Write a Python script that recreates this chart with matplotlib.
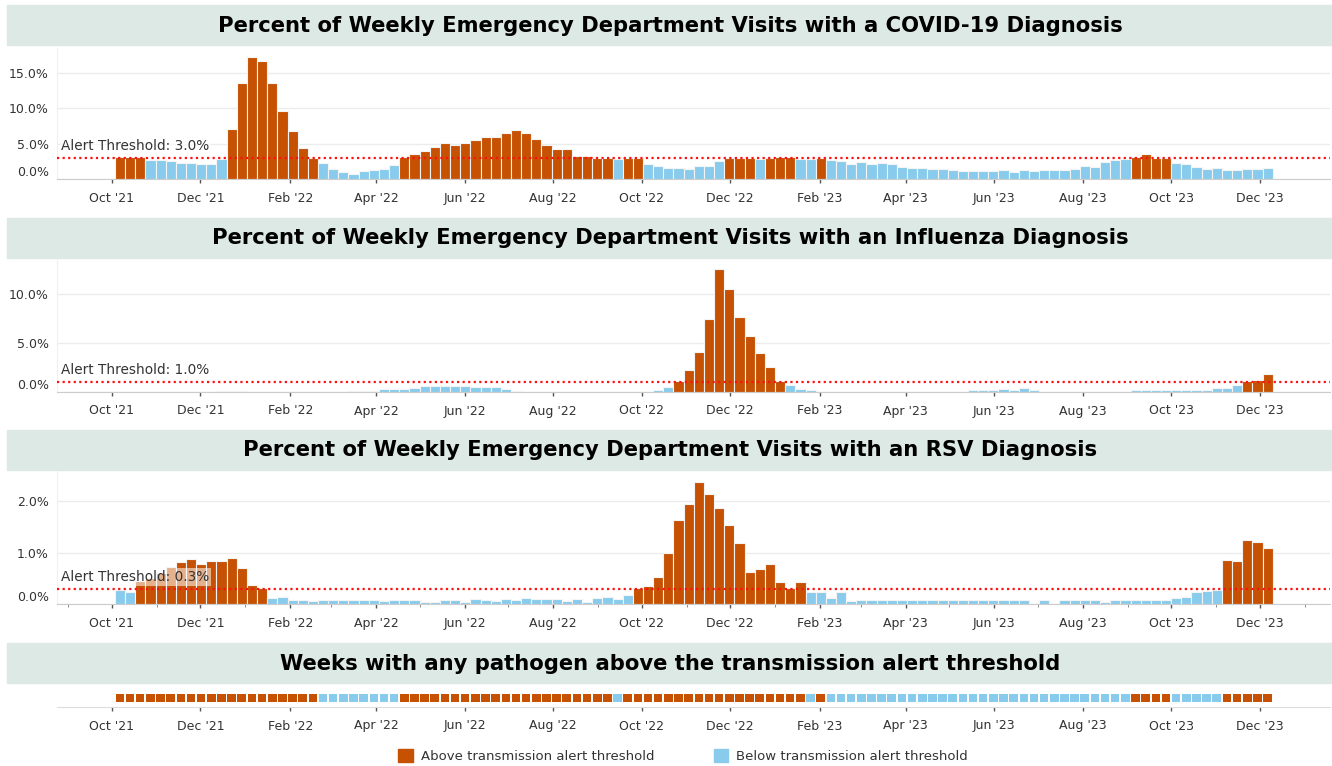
import numpy as np
import pandas as pd
import matplotlib
matplotlib.use("Agg")
import matplotlib.pyplot as plt
import matplotlib.dates as mdates
import matplotlib.patches as mpatches

# weekly values, first week starts 3 Oct 2021
week_start = pd.date_range("2021-10-03", periods=114, freq="7D")

covid = [3.1, 3.1, 3.1, 2.7, 2.7, 2.6, 2.3, 2.3, 2.1, 2.1,
         2.9, 7.1, 13.5, 17.3, 16.6, 13.6, 9.6, 6.8, 4.4, 3.0,
         2.3, 1.5, 1.0, 0.8, 1.1, 1.3, 1.5, 2.0, 3.1, 3.5,
         4.0, 4.5, 5.1, 4.9, 5.1, 5.5, 5.9, 5.9, 6.5, 6.9,
         6.5, 5.7, 4.9, 4.3, 4.3, 3.3, 3.3, 3.05, 3.05, 2.8,
         3.05, 3.05, 2.1, 1.9, 1.55, 1.55, 1.4, 1.9, 1.9, 2.6,
         3.05, 3.0, 3.05, 2.8, 3.05, 3.2, 3.2, 2.8, 2.9, 3.05,
         2.7, 2.6, 2.1, 2.4, 2.2, 2.25, 2.1, 1.8, 1.6, 1.6,
         1.45, 1.45, 1.3, 1.2, 1.2, 1.2, 1.2, 1.3, 1.0, 1.3,
         1.2, 1.3, 1.3, 1.3, 1.45, 1.9, 1.8, 2.4, 2.7, 2.9,
         3.1, 3.5, 3.0, 3.0, 2.25, 2.1, 1.8, 1.45, 1.65, 1.3,
         1.3, 1.45, 1.45, 1.65]

flu = [0, 0, 0, 0, 0, 0, 0, 0, 0, 0,
       0.15, 0.15, 0.15, 0, 0, 0, 0, 0, 0, 0,
       0, 0, 0, 0.15, 0.15, 0.15, 0.3, 0.3, 0.3, 0.4,
       0.58, 0.65, 0.65, 0.65, 0.65, 0.5, 0.5, 0.5, 0.3, 0.15,
       0, 0, 0, 0, 0, 0, 0, 0, 0, 0,
       0, 0, 0, 0.22, 0.48, 1.16, 2.28, 4.1, 7.4, 12.6,
       10.5, 7.65, 5.7, 4.0, 2.6, 1.16, 0.68, 0.34, 0.2, 0,
       0, 0, 0, 0, 0, 0, 0, 0, 0, 0,
       0, 0, 0, 0, 0.2, 0.2, 0.25, 0.34, 0.2, 0.37,
       0.2, 0, 0, 0, 0, 0, 0, 0, 0, 0,
       0.2, 0.2, 0.2, 0.2, 0.2, 0.2, 0.2, 0.2, 0.45, 0.45,
       0.68, 1.1, 1.2, 1.85]

rsv = [0.28, 0.245, 0.45, 0.5, 0.6, 0.73, 0.81, 0.87, 0.78, 0.84,
       0.84, 0.9, 0.7, 0.37, 0.31, 0.12, 0.14, 0.08, 0.08, 0.06,
       0.08, 0.08, 0.08, 0.08, 0.08, 0.08, 0.06, 0.08, 0.08, 0.08,
       0.04, 0.04, 0.08, 0.08, 0.04, 0.1, 0.08, 0.07, 0.11, 0.08,
       0.12, 0.1, 0.1, 0.1, 0.07, 0.1, 0.045, 0.12, 0.14, 0.1,
       0.18, 0.31, 0.355, 0.52, 1.0, 1.64, 1.94, 2.37, 2.14, 1.87,
       1.53, 1.18, 0.63, 0.68, 0.78, 0.43, 0.32, 0.44, 0.245, 0.23,
       0.12, 0.23, 0.065, 0.08, 0.08, 0.08, 0.08, 0.08, 0.08, 0.08,
       0.08, 0.08, 0.08, 0.08, 0.08, 0.08, 0.08, 0.08, 0.08, 0.08,
       np.nan, 0.08, np.nan, 0.08, 0.08, 0.08, 0.08, 0.045, 0.08, 0.08,
       0.08, 0.08, 0.08, 0.08, 0.12, 0.14, 0.23, 0.25, 0.28, 0.86,
       0.83, 1.25, 1.2, 1.09]

thresholds = [3.0, 1.0, 0.3]
titles = ["Percent of Weekly Emergency Department Visits with a COVID-19 Diagnosis",
          "Percent of Weekly Emergency Department Visits with an Influenza Diagnosis",
          "Percent of Weekly Emergency Department Visits with an RSV Diagnosis",
          "Weeks with any pathogen above the transmission alert threshold"]
yticks = [[0, 5, 10, 15], [0, 5, 10], [0, 1, 2]]
legend_labels = ["Above transmission alert threshold", "Below transmission alert threshold"]

ORANGE = "#C65102"
BLUE = "#88CBEC"
BAND = "#DCE9E5"
TEXT = "#333333"

W, H = 1332, 766
fig = plt.figure(figsize=(W / 100, H / 100), dpi=100)


def px_axes(left, top, right, bottom):
    """axes from pixel box"""
    return fig.add_axes([left / W, 1 - bottom / H, (right - left) / W, (bottom - top) / H])


x = mdates.date2num(week_start)
x0 = mdates.date2num(pd.Timestamp("2021-10-01"))
xlim = (x0 - 37.9, x0 + 839.5)

# title bands
band_tops = [5, 218, 430, 643]
for top, title in zip(band_tops, titles):
    fig.patches.append(mpatches.Rectangle((7 / W, 1 - (top + 40) / H), 1325 / W, 40 / H,
                                          transform=fig.transFigure, color=BAND, zorder=0))
    fig.text(670 / W, 1 - (top + 20.5) / H, title, ha="center", va="center",
             fontsize=15.2, fontweight="bold", color="black")

# pixel boxes of the three bar panels
boxes = [(57, 48, 1330, 179.3), (57, 260, 1330, 392), (57, 472, 1330, 604.3)]
ymax = [18.5, 13.47, 2.56]
series = [covid, flu, rsv]
above_flags = []

for i, (box, vals, thr) in enumerate(zip(boxes, series, thresholds)):
    ax = px_axes(*box)
    vals = np.array(vals, dtype=float)
    above = np.nan_to_num(vals, nan=0) >= thr
    above_flags.append(above)
    colors = [ORANGE if a else BLUE for a in above]
    ax.bar(x, vals, width=7, align="edge", color=colors, edgecolor="#f4f4f4",
           linewidth=0.8, zorder=2)
    ax.axhline(thr, color="#FF1010", linestyle=(0, (1, 1.5)), linewidth=1.6, zorder=3)
    ax.annotate("Alert Threshold: %.1f%%" % thr, xy=(0, thr),
                xycoords=("axes fraction", "data"), xytext=(3, 3.5),
                textcoords="offset points", ha="left", va="bottom",
                fontsize=9.8, color=TEXT, zorder=4,
                bbox=dict(boxstyle="square,pad=0.12", fc="white", ec="none", alpha=0.55))

    ax.set_xlim(*xlim)
    ax.set_ylim(0, ymax[i])
    ax.set_yticks(yticks[i])
    ax.set_yticklabels(["%.1f%%" % t for t in yticks[i]])
    ax.get_yticklabels()[0].set_verticalalignment("bottom")
    ax.yaxis.grid(True, color="#ECECEC", linewidth=1, zorder=0)
    ax.set_axisbelow(True)

    ax.xaxis.set_major_locator(mdates.MonthLocator(bymonth=[2, 4, 6, 8, 10, 12]))
    ax.xaxis.set_major_formatter(mdates.DateFormatter("%b '%y"))
    if i == 2:
        ax.xaxis.set_minor_locator(mdates.MonthLocator())
        ax.tick_params(axis="x", which="minor", length=2, color="#777777")
    ax.tick_params(axis="x", length=3, width=1, color="#555555", pad=6,
                   labelsize=9, labelcolor=TEXT)
    ax.tick_params(axis="y", length=0, pad=6, labelsize=9, labelcolor=TEXT)

    for side in ["top", "right"]:
        ax.spines[side].set_visible(False)
    ax.spines["left"].set_color("#F0F0F0")
    ax.spines["bottom"].set_color("#CCCCCC")

# weeks with any pathogen above threshold
any_above = above_flags[0] | above_flags[1] | above_flags[2]
ax4 = px_axes(57, 688, 1330, 707)
ax4.bar(x + 0.5, [0.45] * len(x), bottom=0.25, width=5.9, align="edge",
        color=[ORANGE if a else BLUE for a in any_above], zorder=2)
ax4.set_xlim(*xlim)
ax4.set_ylim(0, 1)
ax4.set_yticks([])
ax4.xaxis.set_major_locator(mdates.MonthLocator(bymonth=[2, 4, 6, 8, 10, 12]))
ax4.xaxis.set_major_formatter(mdates.DateFormatter("%b '%y"))
ax4.tick_params(axis="x", length=3, width=1, color="#555555", pad=6,
                labelsize=9, labelcolor=TEXT)
for side in ["top", "right", "left"]:
    ax4.spines[side].set_visible(False)
ax4.spines["bottom"].set_color("#DDDDDD")

handles = [mpatches.Patch(color=ORANGE), mpatches.Patch(color=BLUE)]
fig.legend(handles, legend_labels, loc="center", bbox_to_anchor=(683 / W, 1 - 756 / H),
           ncol=2, frameon=False, fontsize=9.5, handlelength=1.1, handleheight=1.1,
           columnspacing=4.5, handletextpad=0.6, labelcolor=TEXT)

plt.savefig("out.png", dpi=100)
